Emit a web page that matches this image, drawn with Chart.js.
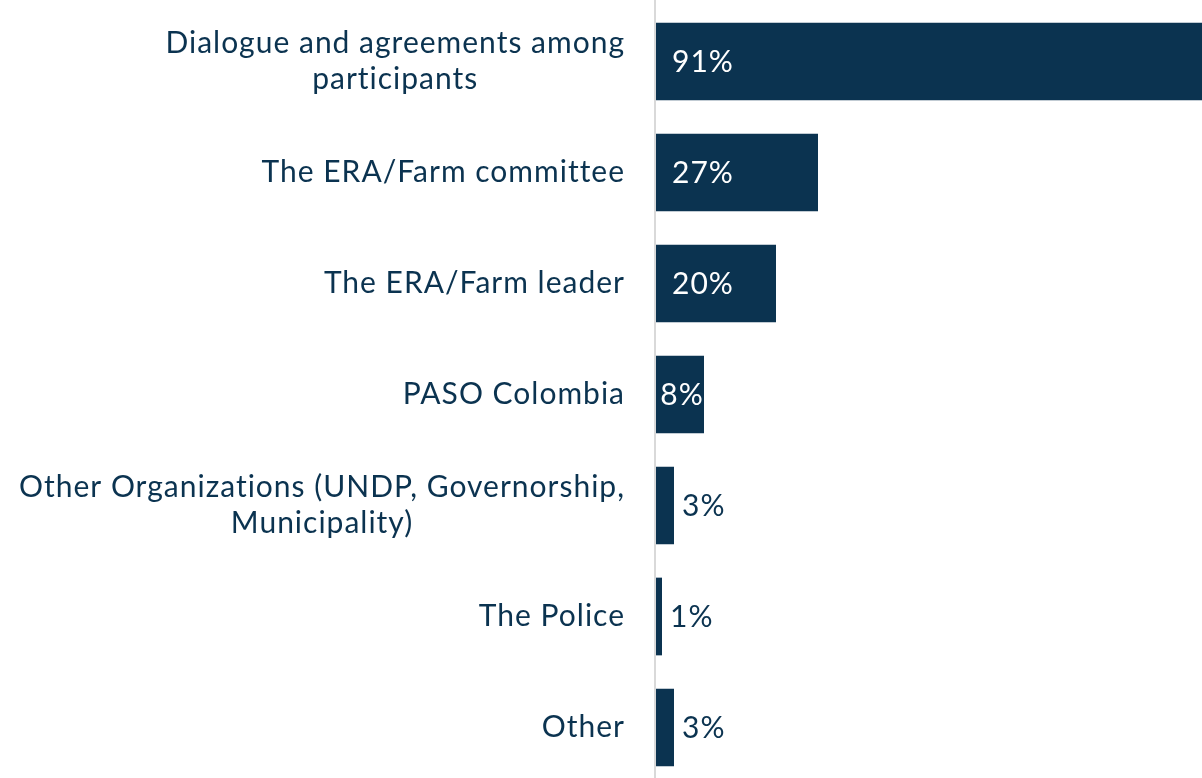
<!DOCTYPE html>
<html>
<head>
<meta charset="utf-8">
<script src="https://cdn.jsdelivr.net/npm/chart.js@4/dist/chart.umd.min.js"></script>
<style>
  html, body { margin: 0; padding: 0; background: #fff; overflow: hidden; }
  canvas { display: block; }
</style>
</head>
<body>
<canvas id="barChart" width="1202" height="784"></canvas>
<script>
const categories = [
  ["Dialogue and agreements among", "participants"],
  ["The ERA/Farm committee"],
  ["The ERA/Farm leader"],
  ["PASO Colombia"],
  ["Other Organizations (UNDP, Governorship,", "Municipality)"],
  ["The Police"],
  ["Other"]
];
const shares = [91, 27, 20, 8, 3, 1, 3];

const navy = "#0b3350";
const fontSpec = "30px Lato";

// draws the category names (centred block, right edge near the axis) and the % labels
const labelPlugin = {
  id: "labels",
  afterDatasetsDraw(chart) {
    const ctx = chart.ctx;
    const area = chart.chartArea;
    const yScale = chart.scales.y;
    const meta = chart.getDatasetMeta(0);

    ctx.save();
    ctx.strokeStyle = "#d9d9d9";
    ctx.lineWidth = 2;
    ctx.beginPath();
    ctx.moveTo(area.left - 1, 0);
    ctx.lineTo(area.left - 1, chart.height);
    ctx.stroke();

    ctx.font = fontSpec;
    ctx.letterSpacing = "1px";
    ctx.textBaseline = "middle";
    ctx.fillStyle = navy;
    const lineH = 36;
    categories.forEach((lines, i) => {
      const cy = yScale.getPixelForTick(i);
      const widest = Math.max(...lines.map(l => ctx.measureText(l).width));
      const cx = area.left - 31 - widest / 2;
      ctx.textAlign = "center";
      lines.forEach((l, j) => {
        const y = cy + (j - (lines.length - 1) / 2) * lineH;
        ctx.fillText(l, cx, y);
      });
    });

    meta.data.forEach((bar, i) => {
      const txt = shares[i] + "%";
      const w = ctx.measureText(txt).width;
      const barW = bar.x - bar.base;
      ctx.textAlign = "left";
      if (barW > w + 30) {
        ctx.fillStyle = "#ffffff";
        ctx.fillText(txt, bar.base + 16, bar.y + 1);
      } else if (barW >= w - 2) {
        ctx.fillStyle = "#ffffff";
        ctx.fillText(txt, bar.base + (barW - w) / 2 + 2, bar.y + 1);
      } else {
        ctx.fillStyle = navy;
        ctx.fillText(txt, bar.x + 8, bar.y + 1);
      }
    });
    ctx.restore();
  }
};

const chart = new Chart(document.getElementById("barChart"), {
  type: "bar",
  data: {
    labels: categories,
    datasets: [{
      data: shares,
      backgroundColor: navy,
      borderWidth: 0,
      barPercentage: 0.7,
      categoryPercentage: 1
    }]
  },
  options: {
    indexAxis: "y",
    responsive: false,
    animation: false,
    layout: { padding: { left: 656, top: 6, right: 0, bottom: 1 } },
    plugins: {
      legend: { display: false },
      tooltip: { enabled: false }
    },
    scales: {
      x: { display: false, min: 0, max: 91 },
      y: { display: false }
    }
  },
  plugins: [labelPlugin]
});
</script>
</body>
</html>
